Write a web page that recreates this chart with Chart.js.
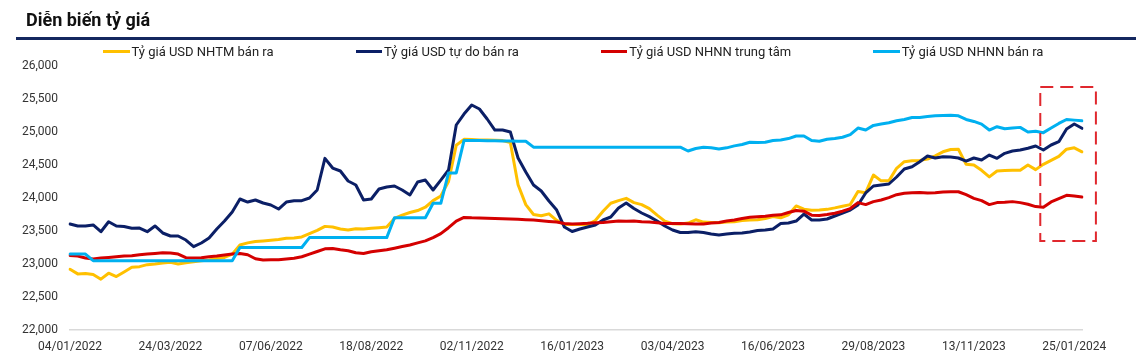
<!DOCTYPE html>
<html>
<head>
<meta charset="utf-8">
<script src="https://cdn.jsdelivr.net/npm/chart.js@4.4.1/dist/chart.umd.min.js"></script>
<style>
html,body{margin:0;padding:0;background:#fff;}
#wrap{position:relative;width:1138px;height:364px;overflow:hidden;font-family:Roboto,"Noto Sans",sans-serif;}
#title{position:absolute;left:26px;top:9px;font-size:18px;font-weight:700;color:#111;line-height:22px;white-space:nowrap;}
#rule{position:absolute;left:16px;right:2px;top:36.5px;height:3px;background:#14285f;}
#legend{position:absolute;left:103px;top:43.5px;height:15px;display:flex;align-items:center;gap:82px;font-size:13px;color:#222;}
.item{display:flex;align-items:center;white-space:nowrap;line-height:15px;}
.swatch{display:inline-block;width:26.5px;height:3px;margin-right:2px;margin-top:1px;}
canvas{position:absolute;left:0;top:0;}
</style>
</head>
<body>
<div id="wrap">
  <canvas id="c" width="1138" height="364"></canvas>
  <div id="title">Diễn biến tỷ giá</div>
  <div id="rule"></div>
  <div id="legend"></div>
</div>
<script>
// Tick labels shown on the category axis (one every 13 samples)
const tickLabels = ['04/01/2022','24/03/2022','07/06/2022','18/08/2022','02/11/2022','16/01/2023',
                    '03/04/2023','16/06/2023','29/08/2023','13/11/2023','25/01/2024'];

const seriesNames = ['Tỷ giá USD NHTM bán ra','Tỷ giá USD tự do bán ra','Tỷ giá USD NHNN trung tâm','Tỷ giá USD NHNN bán ra'];

const nhtmBanRa = [
 22920,22850,22855,22840,22770,22860,22810,22880,22950,22960,
 22990,23000,23015,23025,23000,23020,23035,23050,23060,23085,
 23100,23150,23288,23320,23340,23350,23360,23370,23389,23395,
 23410,23460,23510,23570,23560,23530,23515,23535,23530,23540,
 23550,23560,23690,23740,23780,23810,23860,23960,24030,24250,
 24800,24889,24885,24880,24880,24875,24870,24840,24200,23900,
 23750,23730,23760,23660,23600,23600,23600,23595,23660,23800,
 23920,23960,23995,23930,23900,23840,23740,23650,23610,23606,
 23620,23670,23635,23630,23626,23635,23640,23660,23667,23670,
 23690,23720,23700,23745,23880,23830,23815,23820,23828,23850,
 23875,23900,24100,24080,24348,24260,24260,24450,24550,24565,
 24570,24590,24640,24700,24735,24738,24510,24500,24420,24320,
 24410,24415,24420,24420,24500,24430,24510,24570,24630,24740,
 24760,24700];

const tuDoBanRa = [
 23606,23576,23576,23591,23489,23640,23576,23568,23541,23545,
 23489,23576,23470,23424,23424,23363,23262,23318,23394,23530,
 23651,23788,23985,23939,23970,23924,23894,23833,23939,23959,
 23959,24000,24121,24600,24454,24409,24257,24197,23970,23985,
 24136,24166,24182,24121,24045,24242,24272,24121,24272,24424,
 25106,25272,25409,25348,25197,25030,25030,25000,24606,24394,
 24197,24106,23954,23818,23560,23492,23530,23560,23591,23667,
 23712,23848,23924,23841,23773,23717,23651,23576,23515,23477,
 23477,23489,23477,23454,23439,23454,23465,23470,23485,23507,
 23515,23530,23613,23621,23651,23757,23667,23667,23682,23727,
 23773,23818,23894,24076,24182,24197,24212,24318,24439,24474,
 24550,24636,24606,24626,24621,24606,24560,24606,24576,24651,
 24601,24677,24712,24727,24753,24788,24727,24803,24853,25045,
 25121,25056];

const nhnnTrungTam = [
 23130,23120,23090,23075,23090,23100,23110,23120,23125,23140,
 23150,23160,23170,23165,23150,23095,23090,23095,23110,23120,
 23135,23150,23160,23140,23080,23060,23065,23065,23075,23086,
 23110,23150,23190,23230,23235,23215,23200,23170,23160,23185,
 23200,23215,23240,23265,23288,23320,23350,23400,23460,23550,
 23650,23705,23700,23698,23695,23690,23685,23680,23677,23670,
 23665,23655,23645,23635,23615,23605,23610,23616,23625,23630,
 23640,23650,23648,23650,23640,23635,23625,23615,23612,23612,
 23610,23606,23606,23620,23630,23650,23667,23690,23707,23715,
 23725,23740,23745,23780,23810,23800,23740,23735,23750,23770,
 23800,23840,23930,23900,23945,23970,24005,24050,24072,24080,
 24085,24075,24080,24090,24095,24095,24050,23995,23960,23900,
 23930,23935,23945,23930,23905,23870,23860,23940,23990,24040,
 24030,24015];

const nhnnBanRa = [
 23150,23150,23150,23050,23050,23050,23050,23050,23050,23050,
 23050,23050,23050,23050,23050,23050,23050,23050,23050,23050,
 23050,23050,23250,23250,23250,23250,23250,23250,23250,23250,
 23250,23400,23400,23400,23400,23400,23400,23400,23400,23400,
 23400,23400,23700,23700,23700,23700,23700,23920,23920,24380,
 24380,24870,24870,24870,24868,24866,24864,24862,24860,24860,
 24770,24770,24770,24770,24770,24770,24770,24770,24770,24770,
 24770,24770,24770,24770,24770,24770,24770,24770,24770,24770,
 24712,24750,24770,24760,24742,24760,24790,24810,24844,24840,
 24844,24870,24880,24900,24940,24940,24870,24860,24890,24900,
 24920,24960,25060,25030,25100,25120,25140,25170,25190,25220,
 25220,25235,25245,25250,25255,25245,25190,25160,25120,25030,
 25080,25050,25060,25070,25000,25010,24990,25060,25130,25190,
 25180,25170];

// Highlighted window (data units: category index and rate)
const highlight = { from: 125.6, to: 132.8, low: 23350, high: 25680 };

const SAMPLES_PER_TICK = 13;
const categories = nhtmBanRa.map((_, i) => (i % SAMPLES_PER_TICK === 0 && tickLabels[i / SAMPLES_PER_TICK]) ? tickLabels[i / SAMPLES_PER_TICK] : '');

const highlightPlugin = {
  id: 'highlightBox',
  afterDatasetsDraw(chart) {
    const { ctx, scales: { x, y } } = chart;
    const l = x.getPixelForValue(highlight.from), r = x.getPixelForValue(highlight.to);
    const t = y.getPixelForValue(highlight.high), b = y.getPixelForValue(highlight.low);
    ctx.save();
    ctx.strokeStyle = '#e0282e';
    ctx.lineWidth = 2;
    ctx.setLineDash([13, 7]);
    ctx.strokeRect(l, t, r - l, b - t);
    ctx.restore();
  }
};

const font = { family: 'Roboto', size: 12 };

const chart = new Chart(document.getElementById('c'), {
  type: 'line',
  data: {
    labels: categories,
    datasets: [
      { label: seriesNames[0], data: nhtmBanRa, borderColor: '#ffc000', order: 4 },
      { label: seriesNames[1], data: tuDoBanRa, borderColor: '#0b1f66', order: 3 },
      { label: seriesNames[2], data: nhnnTrungTam, borderColor: '#d40000', order: 2 },
      { label: seriesNames[3], data: nhnnBanRa, borderColor: '#00b0f0', order: 1 }
    ]
  },
  options: {
    responsive: false,
    animation: false,
    devicePixelRatio: 1,
    layout: { padding: { top: 66, right: 56, bottom: 0, left: 0 } },
    plugins: { legend: { display: false }, tooltip: { enabled: false } },
    elements: {
      point: { radius: 0 },
      line: { borderWidth: 3, tension: 0, fill: false, borderJoinStyle: 'round', borderCapStyle: 'round' }
    },
    scales: {
      x: {
        type: 'category',
        grid: { display: false, drawTicks: false },
        border: { display: true, color: '#d9d9d9', width: 1.5 },
        ticks: { autoSkip: false, maxRotation: 0, minRotation: 0, padding: 10, color: '#333', font,
                 callback: (v, i) => categories[i] },
        afterFit: s => { s.height = 34; }
      },
      y: {
        min: 22000, max: 26000,
        grid: { display: false, drawTicks: false },
        border: { display: false },
        ticks: { stepSize: 500, padding: 12, color: '#333', font,
                 callback: v => Number(v).toLocaleString('en-US') },
        afterFit: s => { s.width = 70; }
      }
    }
  },
  plugins: [highlightPlugin]
});

// HTML legend generated from the chart's datasets
const legendEl = document.getElementById('legend');
chart.data.datasets.forEach(ds => {
  const item = document.createElement('div');
  item.className = 'item';
  const sw = document.createElement('span');
  sw.className = 'swatch';
  sw.style.background = ds.borderColor;
  const tx = document.createElement('span');
  tx.textContent = ds.label;
  item.append(sw, tx);
  legendEl.append(item);
});
</script>
</body>
</html>
